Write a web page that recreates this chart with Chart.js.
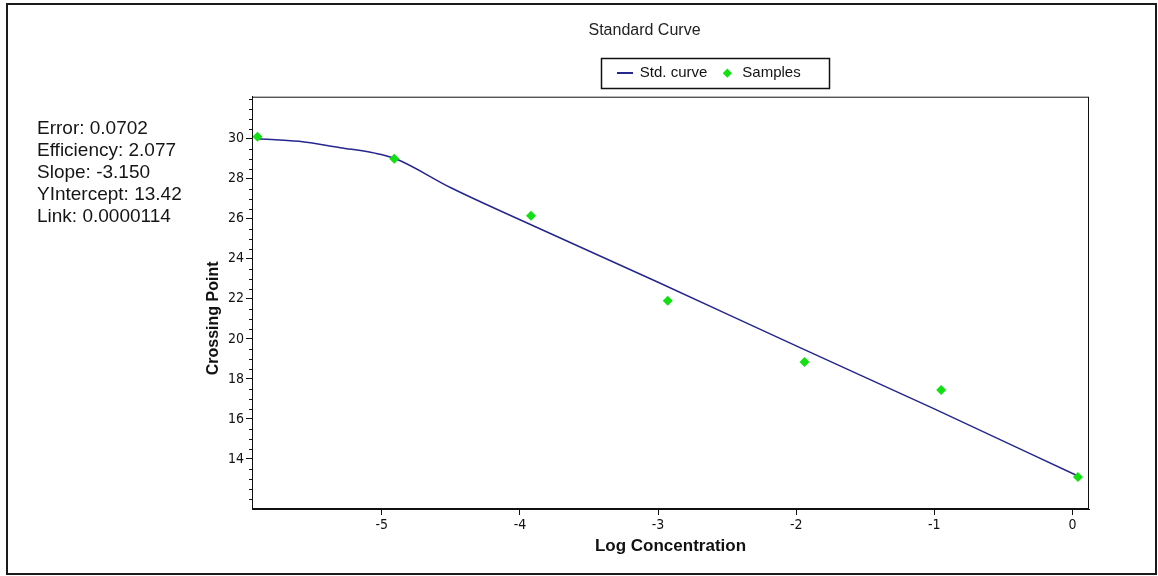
<!DOCTYPE html>
<html>
<head>
<meta charset="utf-8">
<script src="https://cdn.jsdelivr.net/npm/chart.js@4.4.1/dist/chart.umd.min.js"></script>
<style>
    body { margin: 0; background: #fff; }
    #frame {
        position: absolute; left: 6px; top: 3px; width: 1151px; height: 572px;
        box-sizing: border-box; border: 2px solid #1a1a1a;
    }
    #wrap { position: absolute; left: 0; top: 0; width: 1158px; height: 576px; }
    #stats {
        position: absolute; left: 37px; top: 117px;
        font: 19px "Liberation Sans", Arial, sans-serif; line-height: 22px; color: #151515;
    }
</style>
</head>
<body>
<div id="frame"></div>
<div id="wrap"><canvas id="chart"></canvas></div>
<div id="stats">
    <div>Error: 0.0702</div>
    <div>Efficiency: 2.077</div>
    <div>Slope: -3.150</div>
    <div>YIntercept: 13.42</div>
    <div>Link: 0.0000114</div>
</div>
<script>
// samples (log concentration vs crossing point)
const sampleX = [-5.9, -4.91, -3.92, -2.93, -1.94, -0.95, 0.04];
const sampleY = [30.1, 29.0, 26.15, 21.9, 18.85, 17.45, 13.1];
// fitted standard curve
const curveX = [-5.9, -5.6, -5.3, -5.05, -4.9, -4.5, -4, -3, -2, -1, 0.04];
const curveY = [30.0, 29.87, 29.55, 29.28, 29.0, 27.55, 25.95, 22.83, 19.65, 16.5, 13.15];
// axis ticks
const xTicks = [-5, -4, -3, -2, -1, 0];
const yTicks = [14, 16, 18, 20, 22, 24, 26, 28, 30];

const lineColor = '#26268f';
const pointColor = '#12e012';
const tickFont = { family: "'Liberation Sans Narrow', 'DejaVu Sans Condensed', 'Liberation Sans', sans-serif", size: 14 };

// short line image for the legend entry of the curve
const lineIcon = document.createElement('canvas');
lineIcon.width = 16;
lineIcon.height = 2;
const lic = lineIcon.getContext('2d');
lic.fillStyle = lineColor;
lic.fillRect(0, 0, 16, 2);

const legendCenter = 709;
const legendLift = 6;

const extras = {
    id: 'extras',
    afterLayout(chart) {
        // move legend right of the title and a bit up, leaving the gap above the plot
        const lg = chart.legend;
        const w = lg.right - lg.left;
        lg.left = legendCenter - w / 2;
        lg.right = lg.left + w;
        lg.top -= legendLift;
        lg.bottom -= legendLift;
    },
    afterDraw(chart) {
        const ctx = chart.ctx;
        const a = chart.chartArea;
        const y = chart.scales.y;
        ctx.save();
        ctx.strokeStyle = '#111';
        ctx.lineWidth = 1;
        // plot frame
        ctx.strokeRect(a.left + 0.5, a.top + 0.5, a.right - a.left - 1, a.bottom - a.top - 1);
        // minor ticks on the y axis
        for (let v = 12; v <= 32; v += 0.5) {
            if (yTicks.includes(v)) continue;
            const py = Math.round(y.getPixelForValue(v)) + 0.5;
            ctx.beginPath();
            ctx.moveTo(a.left - 3, py);
            ctx.lineTo(a.left, py);
            ctx.stroke();
        }
        // box round the legend
        const hb = chart.legend.legendHitBoxes;
        if (hb && hb.length) {
            const l = hb[0].left - 16;
            const r = hb[hb.length - 1].left + hb[hb.length - 1].width + 29;
            const t = hb[0].top - 7.5;
            const b = hb[0].top + hb[0].height + 7.5;
            ctx.lineWidth = 1.5;
            ctx.strokeRect(Math.round(l) + 0.5, Math.round(t) + 0.5, Math.round(r - l), Math.round(b - t));
        }
        ctx.restore();
    }
};

new Chart(document.getElementById('chart'), {
    type: 'scatter',
    data: {
        datasets: [{
            type: 'line',
            label: 'Std. curve',
            data: curveX.map((x, i) => ({ x: x, y: curveY[i] })),
            borderColor: lineColor,
            backgroundColor: lineColor,
            borderWidth: 1.5,
            pointRadius: 0,
            pointStyle: 'line',
            cubicInterpolationMode: 'monotone',
            fill: false,
            order: 2
        }, {
            label: 'Samples',
            data: sampleX.map((x, i) => ({ x: x, y: sampleY[i] })),
            backgroundColor: pointColor,
            borderColor: pointColor,
            borderWidth: 0,
            pointStyle: 'rectRot',
            pointRadius: 5,
            order: 1
        }]
    },
    options: {
        responsive: true,
        maintainAspectRatio: false,
        animation: false,
        layout: { padding: { left: 200, right: 69, top: 10, bottom: 15 } },
        plugins: {
            title: {
                display: true,
                text: 'Standard Curve',
                color: '#222',
                font: { family: "'Liberation Sans', Arial, sans-serif", size: 16, weight: 'normal' },
                padding: { top: 11, bottom: 19 }
            },
            legend: {
                display: true,
                labels: {
                    usePointStyle: true,
                    boxWidth: 16,
                    boxHeight: 6.5,
                    padding: 12.5,
                    color: '#111',
                    font: { family: "'Liberation Sans', Arial, sans-serif", size: 15 },
                    generateLabels(chart) {
                        const items = Chart.defaults.plugins.legend.labels.generateLabels(chart);
                        items.sort((a, b) => a.datasetIndex - b.datasetIndex);
                        items.forEach(it => { if (it.datasetIndex === 0) it.pointStyle = lineIcon; });
                        return items;
                    }
                }
            },
            tooltip: { enabled: false }
        },
        scales: {
            x: {
                type: 'linear',
                min: -5.94,
                max: 0.12,
                afterBuildTicks: axis => { axis.ticks = xTicks.map(v => ({ value: v })); },
                afterFit: axis => { axis.height = 52; },
                grid: { drawOnChartArea: false, drawTicks: true, tickLength: 6, color: '#111' },
                border: { display: true, color: '#111', width: 1 },
                ticks: { color: '#111', font: tickFont, padding: 2, maxRotation: 0 },
                title: {
                    display: true,
                    text: 'Log Concentration',
                    color: '#111',
                    font: { family: "'Liberation Sans', Arial, sans-serif", size: 17, weight: 'bold' },
                    padding: { top: 4, bottom: 4 }
                }
            },
            y: {
                type: 'linear',
                min: 11.5,
                max: 32.1,
                afterBuildTicks: axis => { axis.ticks = yTicks.map(v => ({ value: v })); },
                afterFit: axis => { axis.width = 52; },
                grid: { drawOnChartArea: false, drawTicks: true, tickLength: 6, color: '#111' },
                border: { display: true, color: '#111', width: 1 },
                ticks: { color: '#111', font: tickFont, padding: 2 },
                title: {
                    display: true,
                    // trailing spaces push the label a little lower, as in the original
                    text: 'Crossing Point       ',
                    color: '#111',
                    font: { family: "'Liberation Sans', Arial, sans-serif", size: 16, weight: 'bold' },
                    padding: { top: 4, bottom: 4 }
                }
            }
        }
    },
    plugins: [extras]
});
</script>
</body>
</html>
